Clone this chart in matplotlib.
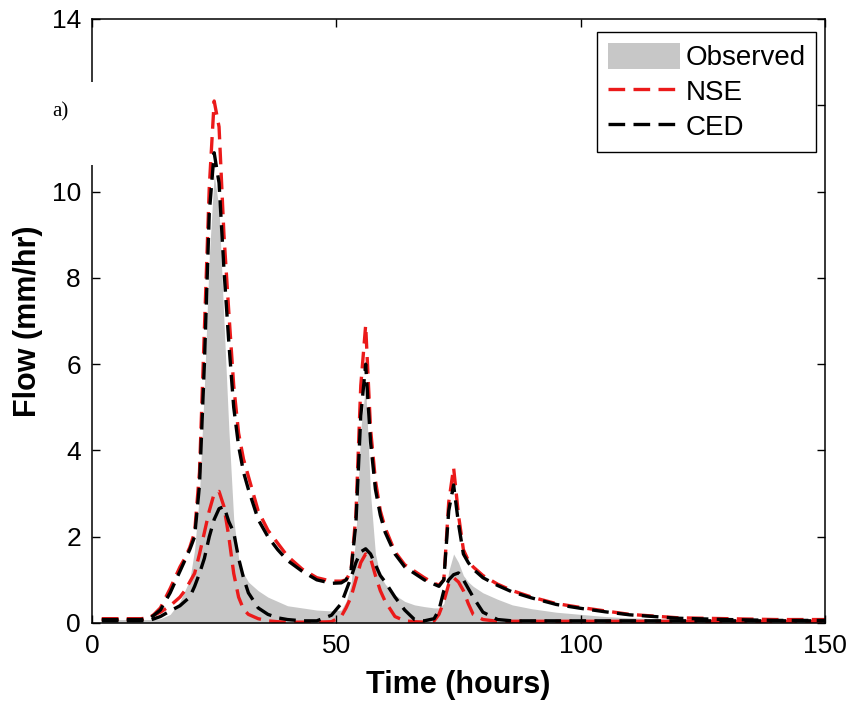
import matplotlib
matplotlib.use("Agg")
import matplotlib.pyplot as plt
from matplotlib import font_manager
from matplotlib.patches import Rectangle
from matplotlib.ticker import FuncFormatter

# time axis (hours) shared by all series
time = [2, 6, 10, 12, 14, 16, 18, 19, 20, 21, 22, 23, 24, 25, 26, 27, 28, 29, 30, 31,
        32, 34, 36, 38, 40, 43, 46, 49, 51, 52, 53, 54, 55, 56, 57, 58, 59, 60, 62, 64,
        66, 68, 70, 71, 72, 73, 74, 75, 76, 77, 78, 80, 83, 86, 90, 95, 100, 105, 110, 115,
        120, 130, 140, 150]

observed = [0.08, 0.08, 0.08, 0.08, 0.1, 0.2, 0.5, 0.75, 1.0, 1.7, 3.0, 5.5, 8.5, 10.4, 9.6, 7.0, 4.5, 2.4, 1.5, 1.15,
            0.95, 0.75, 0.6, 0.5, 0.4, 0.35, 0.3, 0.28, 0.3, 0.5, 0.9, 2.0, 4.5, 5.5, 3.0, 1.6, 1.1, 0.9, 0.65, 0.5,
            0.42, 0.38, 0.35, 0.35, 0.45, 1.2, 1.6, 1.4, 1.1, 0.95, 0.85, 0.7, 0.55, 0.42, 0.33, 0.25, 0.2, 0.15, 0.12, 0.1,
            0.08, 0.06, 0.05, 0.05]

nse_upper = [0.1, 0.1, 0.1, 0.12, 0.35, 0.8, 1.3, 1.5, 1.75, 2.1, 3.5, 6.8, 10.1, 12.1, 11.5, 9.0, 7.2, 5.5, 4.4, 3.8,
             3.4, 2.6, 2.15, 1.85, 1.55, 1.25, 1.05, 0.97, 0.97, 1.0, 1.2, 2.5, 5.5, 6.9, 4.5, 3.3, 2.6, 2.2, 1.65, 1.35,
             1.2, 1.05, 0.92, 0.88, 1.0, 2.8, 3.6, 2.5, 1.7, 1.45, 1.3, 1.1, 0.9, 0.75, 0.6, 0.45, 0.36, 0.28, 0.2, 0.16,
             0.12, 0.1, 0.08, 0.08]

nse_lower = [0.08, 0.08, 0.08, 0.15, 0.25, 0.4, 0.6, 0.75, 0.95, 1.15, 1.6, 2.1, 2.6, 3.0, 3.05, 2.7, 2.0, 1.15, 0.6, 0.32,
             0.2, 0.1, 0.05, 0.03, 0.02, 0.02, 0.02, 0.03, 0.15, 0.35, 0.6, 1.0, 1.4, 1.6, 1.5, 1.1, 0.75, 0.5, 0.15, 0.05,
             0.03, 0.02, 0.05, 0.2, 0.5, 0.9, 1.05, 0.95, 0.75, 0.45, 0.2, 0.08, 0.04, 0.04, 0.04, 0.04, 0.04, 0.04, 0.04, 0.04,
             0.04, 0.04, 0.04, 0.04]

ced_upper = [0.08, 0.08, 0.08, 0.12, 0.3, 0.7, 1.2, 1.45, 1.7, 2.0, 3.2, 6.0, 9.5, 10.9, 10.2, 8.2, 6.5, 5.0, 4.1, 3.5,
             3.1, 2.4, 2.0, 1.7, 1.45, 1.2, 1.0, 0.92, 0.93, 1.0, 1.2, 2.3, 4.8, 6.0, 4.2, 3.1, 2.5, 2.1, 1.6, 1.3,
             1.15, 1.0, 0.9, 0.85, 1.0, 2.6, 3.2, 2.3, 1.6, 1.4, 1.25, 1.05, 0.87, 0.72, 0.58, 0.43, 0.34, 0.26, 0.19, 0.15,
             0.11, 0.08, 0.06, 0.06]

ced_lower = [0.05, 0.05, 0.05, 0.07, 0.15, 0.28, 0.4, 0.5, 0.6, 0.85, 1.15, 1.5, 2.0, 2.4, 2.65, 2.7, 2.35, 2.1, 1.5, 1.05,
             0.7, 0.35, 0.2, 0.12, 0.08, 0.05, 0.05, 0.18, 0.45, 0.75, 1.05, 1.4, 1.65, 1.72, 1.6, 1.35, 1.1, 0.95, 0.6, 0.3,
             0.08, 0.05, 0.1, 0.3, 0.75, 1.0, 1.12, 1.16, 1.0, 0.8, 0.6, 0.25, 0.08, 0.05, 0.05, 0.05, 0.05, 0.05, 0.05, 0.05,
             0.05, 0.05, 0.05, 0.05]

installed = {f.name for f in font_manager.fontManager.ttflist}
sans = "Liberation Sans Narrow" if "Liberation Sans Narrow" in installed else "Liberation Sans"
plt.rcParams["font.family"] = [sans, "DejaVu Sans"]

red = (0.92, 0.1, 0.1)
gray = (0.78, 0.78, 0.78)
dash = (5, 2.5)
lw = 2.4

fig = plt.figure(figsize=(8.46, 7.03), dpi=100)
ax = fig.add_axes([92 / 846, 1 - 623 / 703, (825 - 92) / 846, (623 - 19) / 703])

ax.fill_between(time, observed, 0, color=gray, linewidth=0, label="Observed")
ax.plot(time, nse_upper, color=red, lw=lw, dashes=dash, label="NSE")
ax.plot(time, nse_lower, color=red, lw=lw, dashes=dash)
ax.plot(time, ced_upper, color="black", lw=lw, dashes=dash, label="CED")
ax.plot(time, ced_lower, color="black", lw=lw, dashes=dash)

ax.set_xlim(0, 150)
ax.set_ylim(0, 14)
ax.set_xticks([0, 50, 100, 150])
ax.set_yticks(range(0, 15, 2))
# the 12 label sits under the panel-label box in the original
ax.yaxis.set_major_formatter(FuncFormatter(lambda v, p: "" if v == 12 else "%d" % v))
ax.tick_params(direction="in", length=6, width=1, top=True, right=True,
               labelsize=19, pad=8)
for s in ax.spines.values():
    s.set_linewidth(1.1)

ax.set_xlabel("Time (hours)", fontsize=22, fontweight="bold")
ax.set_ylabel("Flow (mm/hr)", fontsize=22, fontweight="bold")
ax.xaxis.set_label_coords(0.5, -(670 - 623) / 604, transform=ax.transAxes)
ax.yaxis.set_label_coords(-(92 - 43) / 733, 0.5, transform=ax.transAxes)

leg = ax.legend(loc="upper right", bbox_to_anchor=(816 / 846, 1 - 32 / 703),
                bbox_transform=fig.transFigure, borderaxespad=0, fancybox=False,
                framealpha=1, edgecolor="black", fontsize=20,
                handlelength=2.6, handleheight=1.1, handletextpad=0.2,
                labelspacing=0.22, borderpad=0.38)
leg.get_frame().set_linewidth(1.0)

# white box with panel label over the top-left corner
fig.add_artist(Rectangle((0, 1 - 165 / 703), 103 / 846, 83 / 703,
                         transform=fig.transFigure, facecolor="white",
                         edgecolor="none", zorder=10))
fig.text(52 / 846, 1 - 112 / 703, "a)", fontsize=15, va="center", ha="left",
         family=["Liberation Serif", "DejaVu Serif"], zorder=11)

fig.savefig("out.png", dpi=100)
